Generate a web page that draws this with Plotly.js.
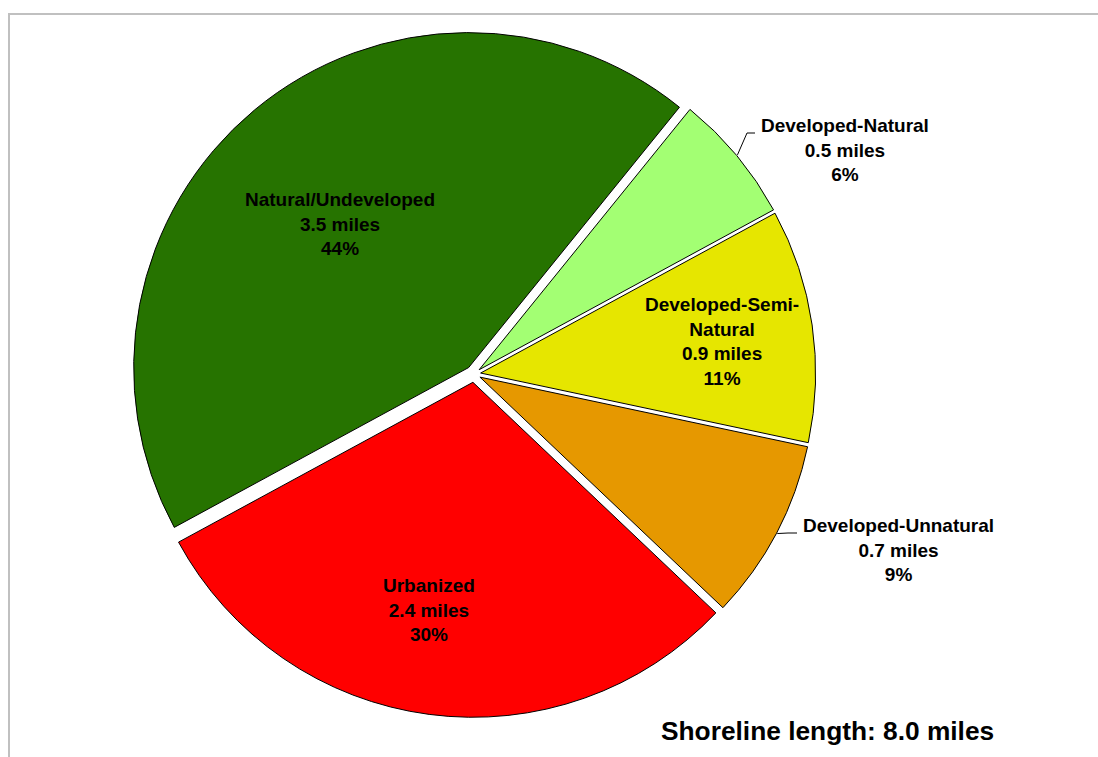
<!DOCTYPE html>
<html>
<head>
<meta charset="utf-8">
<script src="https://cdn.plot.ly/plotly-3.0.1.min.js"></script>
<style>
  html, body { margin: 0; padding: 0; background: #fff; }
  #wrap { position: relative; width: 1098px; height: 757px; overflow: hidden; }
  #frame { position: absolute; left: 8px; top: 13px; width: 1200px; height: 900px; border: 2px solid #c0c0c0; box-sizing: border-box; }
  #chart { position: absolute; left: 0; top: 0; width: 1098px; height: 757px; }
</style>
</head>
<body>
<div id="wrap">
  <div id="frame"></div>
  <div id="chart"></div>
</div>
<script>
const categories = ["Developed-Natural", "Developed-Semi-Natural", "Developed-Unnatural", "Urbanized", "Natural/Undeveloped"];
const displayLabels = ["Developed-Natural", "Developed-Semi-<br>Natural", "Developed-Unnatural", "Urbanized", "Natural/Undeveloped"];
const miles = [0.5, 0.9, 0.7, 2.4, 3.5];
const percentText = ["6%", "11%", "9%", "30%", "44%"];
const colors = ["#A3FF73", "#E6E600", "#E69800", "#FF0000", "#267300"];
const pulls = [0.02, 0.02, 0.02, 0.025, 0.025];
const hasLeader = [true, false, true, false, false];
const totalLabel = "Shoreline length: 8.0 miles";

// layout settings (positions in paper fractions, not data)
const W = 1098, H = 757;
const dom = { x: [0.1190, 0.7444], y: [0.0523, 0.9596] };
const ROT = 39;
const labelPos = [
  { x: 844.5 / W, y: 1 - 150 / H },
  { x: 721.5 / W, y: 1 - 341.5 / H },
  { x: 898.5 / W, y: 1 - 550 / H },
  { x: 429 / W, y: 1 - 610 / H },
  { x: 340 / W, y: 1 - 224 / H }
];
// leader elbow/end in px (left of first text line)
const leaderEnds = [
  { ex: 747, ey: 133, tx: 755 },
  null,
  { ex: 788, ey: 533, tx: 797 },
  null, null
];
const FONT = "Liberation Sans, Arial, sans-serif";
const FS = 19;

const text = categories.map((c, i) => "<b>" + displayLabels[i] + "<br>" + miles[i].toFixed(1) + " miles<br>" + percentText[i] + "</b>");

const trace = {
  type: "pie",
  labels: categories,
  values: miles,
  textinfo: "none",
  hoverinfo: "label+value+percent",
  sort: false,
  direction: "clockwise",
  rotation: ROT,
  pull: pulls,
  marker: { colors: colors, line: { color: "#000000", width: 1 } },
  domain: dom
};

// geometry from domain & data for leader lines
const maxPull = Math.max.apply(null, pulls);
const cx = (dom.x[0] + dom.x[1]) / 2 * W;
const cy = (1 - (dom.y[0] + dom.y[1]) / 2) * H;
const r = Math.min((dom.x[1] - dom.x[0]) * W, (dom.y[1] - dom.y[0]) * H) / (2 + 2 * maxPull);
const total = miles.reduce((a, b) => a + b, 0);

const annotations = [];
const shapes = [];
let cum = 0;
miles.forEach((v, i) => {
  const mid = ROT + (cum + v / 2) / total * 360;
  cum += v;
  annotations.push({
    text: text[i], xref: "paper", yref: "paper", x: labelPos[i].x, y: labelPos[i].y,
    xanchor: "center", yanchor: "middle", showarrow: false, align: "center",
    font: { size: FS, color: "#000", family: FONT }
  });
  if (hasLeader[i]) {
    const a = mid * Math.PI / 180;
    const rr = r * (1 + pulls[i]) + 1;
    const px = cx + rr * Math.sin(a), py = cy - rr * Math.cos(a);
    const L = leaderEnds[i];
    const path = "M " + (px / W) + " " + (1 - py / H) + " L " + (L.ex / W) + " " + (1 - L.ey / H) + " L " + (L.tx / W) + " " + (1 - L.ey / H);
    shapes.push({ type: "path", xref: "paper", yref: "paper", path: path, line: { color: "#000", width: 1 } });
  }
});

annotations.push({
  text: "<b>" + totalLabel + "</b>",
  xref: "paper", yref: "paper", x: 996 / W, y: 1 - 731 / H,
  xanchor: "right", yanchor: "middle", showarrow: false,
  font: { size: 26.3, color: "#000", family: FONT }
});

const layout = {
  width: W, height: H,
  margin: { l: 0, r: 0, t: 0, b: 0 },
  paper_bgcolor: "rgba(0,0,0,0)",
  plot_bgcolor: "rgba(0,0,0,0)",
  showlegend: false,
  font: { family: FONT, color: "#000" },
  annotations: annotations,
  shapes: shapes
};

Plotly.newPlot("chart", [trace], layout, { displayModeBar: false, staticPlot: true });
</script>
</body>
</html>
